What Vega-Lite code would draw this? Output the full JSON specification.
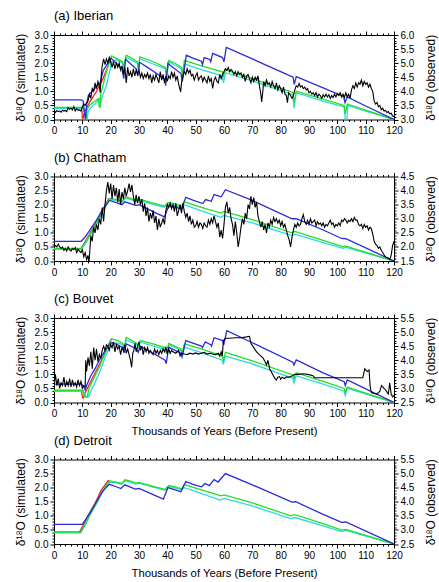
{
"$schema": "https://vega.github.io/schema/vega-lite/v6.json",
"padding": {"left": 13, "top": 9, "right": 0, "bottom": 0},
"config": {
 "font": "Liberation Sans",
 "view": {"stroke": "#000000", "strokeWidth": 1},
 "axis": {"grid": false, "domain": false, "tickColor": "#000000", "tickWidth": 1, "labelColor": "#000000", "labelFontSize": 10, "labelFont": "Liberation Sans", "titleFont": "Liberation Sans", "titleFontSize": 11.3, "titleFontWeight": "normal", "titleColor": "#000000", "labelPadding": 2},
 "axisY": {"titleFontSize": 12},
 "title": {"font": "Liberation Sans", "fontSize": 13, "fontWeight": "normal", "anchor": "start", "frame": "group", "color": "#000000", "offset": 7, "baseline": "bottom"}
},
"datasets": {
"sim": [
{"p":"a","s":"red","t":0,"v":0.42},{"p":"a","s":"red","t":9.8,"v":0.42},{"p":"a","s":"red","t":10.0,"v":0.1},{"p":"a","s":"red","t":10.2,"v":0.0},{"p":"a","s":"red","t":10.6,"v":0.2},{"p":"a","s":"red","t":11.5,"v":0.4},{"p":"a","s":"red","t":12.6,"v":0.62},{"p":"a","s":"red","t":14.9,"v":0.98},{"p":"a","s":"red","t":17.3,"v":1.45},{"p":"a","s":"red","t":19.6,"v":2.05},{"p":"a","s":"red","t":20.3,"v":2.2},
{"p":"a","s":"cyan","t":0,"v":0.4},{"p":"a","s":"cyan","t":9.6,"v":0.4},{"p":"a","s":"cyan","t":10.5,"v":0.38},{"p":"a","s":"cyan","t":11.3,"v":0.15},{"p":"a","s":"cyan","t":11.7,"v":0.0},{"p":"a","s":"cyan","t":12.1,"v":0.3},{"p":"a","s":"cyan","t":13,"v":0.42},{"p":"a","s":"cyan","t":14.5,"v":0.55},{"p":"a","s":"cyan","t":15.8,"v":0.7},{"p":"a","s":"cyan","t":16.1,"v":0.45},{"p":"a","s":"cyan","t":16.4,"v":0.6},{"p":"a","s":"cyan","t":17.5,"v":0.95},{"p":"a","s":"cyan","t":18.5,"v":1.2},{"p":"a","s":"cyan","t":19.5,"v":1.65},{"p":"a","s":"cyan","t":20.3,"v":2.05},{"p":"a","s":"cyan","t":22,"v":2.12},{"p":"a","s":"cyan","t":24.2,"v":2.0},{"p":"a","s":"cyan","t":24.6,"v":1.65},{"p":"a","s":"cyan","t":25.0,"v":2.0},{"p":"a","s":"cyan","t":25.5,"v":2.2},{"p":"a","s":"cyan","t":29.4,"v":2.0},{"p":"a","s":"cyan","t":29.8,"v":1.75},{"p":"a","s":"cyan","t":30.3,"v":2.15},{"p":"a","s":"cyan","t":35,"v":1.97},{"p":"a","s":"cyan","t":39.3,"v":1.8},{"p":"a","s":"cyan","t":39.7,"v":1.45},{"p":"a","s":"cyan","t":40.5,"v":2.05},{"p":"a","s":"cyan","t":45,"v":1.8},{"p":"a","s":"cyan","t":45.4,"v":1.5},{"p":"a","s":"cyan","t":46.2,"v":1.97},{"p":"a","s":"cyan","t":52,"v":1.77},{"p":"a","s":"cyan","t":59.4,"v":1.55},{"p":"a","s":"cyan","t":59.8,"v":1.3},{"p":"a","s":"cyan","t":60.5,"v":1.66},{"p":"a","s":"cyan","t":70,"v":1.37},{"p":"a","s":"cyan","t":84.3,"v":0.88},{"p":"a","s":"cyan","t":84.7,"v":0.4},{"p":"a","s":"cyan","t":85.5,"v":0.95},{"p":"a","s":"cyan","t":95,"v":0.65},{"p":"a","s":"cyan","t":102.4,"v":0.45},{"p":"a","s":"cyan","t":102.8,"v":0.0},{"p":"a","s":"cyan","t":103.4,"v":0.0},{"p":"a","s":"cyan","t":103.7,"v":0.5},{"p":"a","s":"cyan","t":110,"v":0.3},{"p":"a","s":"cyan","t":120,"v":0.0},
{"p":"a","s":"green","t":0,"v":0.43},{"p":"a","s":"green","t":9.6,"v":0.43},{"p":"a","s":"green","t":10.3,"v":0.42},{"p":"a","s":"green","t":10.9,"v":0.2},{"p":"a","s":"green","t":11.3,"v":0.0},{"p":"a","s":"green","t":11.6,"v":0.35},{"p":"a","s":"green","t":12.5,"v":0.5},{"p":"a","s":"green","t":14,"v":0.62},{"p":"a","s":"green","t":15.8,"v":0.75},{"p":"a","s":"green","t":16.0,"v":0.44},{"p":"a","s":"green","t":16.3,"v":0.44},{"p":"a","s":"green","t":16.5,"v":0.9},{"p":"a","s":"green","t":17.5,"v":1.3},{"p":"a","s":"green","t":18.5,"v":1.7},{"p":"a","s":"green","t":19.5,"v":2.05},{"p":"a","s":"green","t":20.3,"v":2.26},{"p":"a","s":"green","t":22,"v":2.17},{"p":"a","s":"green","t":24.2,"v":2.05},{"p":"a","s":"green","t":24.6,"v":1.75},{"p":"a","s":"green","t":25.0,"v":2.1},{"p":"a","s":"green","t":25.5,"v":2.28},{"p":"a","s":"green","t":27.5,"v":2.17},{"p":"a","s":"green","t":29.4,"v":2.05},{"p":"a","s":"green","t":29.8,"v":1.85},{"p":"a","s":"green","t":30.3,"v":2.22},{"p":"a","s":"green","t":35,"v":2.05},{"p":"a","s":"green","t":39.3,"v":1.85},{"p":"a","s":"green","t":39.7,"v":1.55},{"p":"a","s":"green","t":40.5,"v":2.1},{"p":"a","s":"green","t":43,"v":1.98},{"p":"a","s":"green","t":45,"v":1.85},{"p":"a","s":"green","t":45.4,"v":1.6},{"p":"a","s":"green","t":46,"v":2.1},{"p":"a","s":"green","t":52,"v":1.9},{"p":"a","s":"green","t":59.4,"v":1.69},{"p":"a","s":"green","t":59.8,"v":1.55},{"p":"a","s":"green","t":60.5,"v":1.76},{"p":"a","s":"green","t":70,"v":1.45},{"p":"a","s":"green","t":84.3,"v":0.96},{"p":"a","s":"green","t":84.7,"v":0.6},{"p":"a","s":"green","t":85.5,"v":1.0},{"p":"a","s":"green","t":95,"v":0.72},{"p":"a","s":"green","t":102.4,"v":0.5},{"p":"a","s":"green","t":102.8,"v":0.2},{"p":"a","s":"green","t":103.5,"v":0.55},{"p":"a","s":"green","t":110,"v":0.33},{"p":"a","s":"green","t":120,"v":0.0},
{"p":"a","s":"blue","t":0,"v":0.7},{"p":"a","s":"blue","t":9.6,"v":0.7},{"p":"a","s":"blue","t":10.3,"v":0.65},{"p":"a","s":"blue","t":10.8,"v":0.2},{"p":"a","s":"blue","t":11.1,"v":0.0},{"p":"a","s":"blue","t":11.5,"v":0.5},{"p":"a","s":"blue","t":12.1,"v":0.85},{"p":"a","s":"blue","t":13,"v":0.95},{"p":"a","s":"blue","t":14,"v":1.05},{"p":"a","s":"blue","t":15,"v":1.18},{"p":"a","s":"blue","t":16.2,"v":1.28},{"p":"a","s":"blue","t":17.4,"v":1.74},{"p":"a","s":"blue","t":19.2,"v":2.04},{"p":"a","s":"blue","t":20.2,"v":2.17},{"p":"a","s":"blue","t":22,"v":2.0},{"p":"a","s":"blue","t":24,"v":1.78},{"p":"a","s":"blue","t":24.4,"v":1.6},{"p":"a","s":"blue","t":24.6,"v":1.45},{"p":"a","s":"blue","t":25.0,"v":1.9},{"p":"a","s":"blue","t":25.3,"v":2.14},{"p":"a","s":"blue","t":27,"v":1.98},{"p":"a","s":"blue","t":29,"v":1.8},{"p":"a","s":"blue","t":29.3,"v":1.68},{"p":"a","s":"blue","t":29.6,"v":1.55},{"p":"a","s":"blue","t":30.2,"v":2.03},{"p":"a","s":"blue","t":33,"v":1.85},{"p":"a","s":"blue","t":36,"v":1.65},{"p":"a","s":"blue","t":39,"v":1.43},{"p":"a","s":"blue","t":39.4,"v":1.2},{"p":"a","s":"blue","t":40.2,"v":2.0},{"p":"a","s":"blue","t":42,"v":1.85},{"p":"a","s":"blue","t":44.8,"v":1.63},{"p":"a","s":"blue","t":45.3,"v":1.35},{"p":"a","s":"blue","t":46.7,"v":2.28},{"p":"a","s":"blue","t":49,"v":2.18},{"p":"a","s":"blue","t":52,"v":2.07},{"p":"a","s":"blue","t":52.4,"v":1.95},{"p":"a","s":"blue","t":53,"v":2.2},{"p":"a","s":"blue","t":55,"v":2.13},{"p":"a","s":"blue","t":55.3,"v":2.05},{"p":"a","s":"blue","t":56,"v":2.35},{"p":"a","s":"blue","t":59.5,"v":2.2},{"p":"a","s":"blue","t":60,"v":2.05},{"p":"a","s":"blue","t":60.8,"v":2.56},{"p":"a","s":"blue","t":70,"v":2.15},{"p":"a","s":"blue","t":80,"v":1.7},{"p":"a","s":"blue","t":84.4,"v":1.5},{"p":"a","s":"blue","t":84.8,"v":1.25},{"p":"a","s":"blue","t":85.5,"v":1.52},{"p":"a","s":"blue","t":95,"v":1.12},{"p":"a","s":"blue","t":102.2,"v":0.82},{"p":"a","s":"blue","t":102.7,"v":0.6},{"p":"a","s":"blue","t":103.5,"v":0.8},{"p":"a","s":"blue","t":110,"v":0.48},{"p":"a","s":"blue","t":120,"v":0.0},
{"p":"b","s":"red","t":0,"v":0.43},{"p":"b","s":"red","t":9.5,"v":0.43},{"p":"b","s":"red","t":10.5,"v":0.6},{"p":"b","s":"red","t":12.5,"v":0.95},{"p":"b","s":"red","t":14.5,"v":1.3},{"p":"b","s":"red","t":16.5,"v":1.7},{"p":"b","s":"red","t":19.2,"v":2.2},{"p":"b","s":"red","t":20,"v":2.22},
{"p":"b","s":"cyan","t":0,"v":0.42},{"p":"b","s":"cyan","t":9.6,"v":0.42},{"p":"b","s":"cyan","t":11,"v":0.6},{"p":"b","s":"cyan","t":13,"v":0.95},{"p":"b","s":"cyan","t":15,"v":1.3},{"p":"b","s":"cyan","t":17,"v":1.7},{"p":"b","s":"cyan","t":19.6,"v":2.18},{"p":"b","s":"cyan","t":22,"v":2.15},{"p":"b","s":"cyan","t":24,"v":2.08},{"p":"b","s":"cyan","t":25.3,"v":2.24},{"p":"b","s":"cyan","t":29,"v":2.12},{"p":"b","s":"cyan","t":30,"v":2.16},{"p":"b","s":"cyan","t":34,"v":2.04},{"p":"b","s":"cyan","t":39,"v":1.91},{"p":"b","s":"cyan","t":40.2,"v":2.04},{"p":"b","s":"cyan","t":45,"v":1.9},{"p":"b","s":"cyan","t":46,"v":2.0},{"p":"b","s":"cyan","t":52,"v":1.78},{"p":"b","s":"cyan","t":59,"v":1.55},{"p":"b","s":"cyan","t":60,"v":1.62},{"p":"b","s":"cyan","t":70,"v":1.35},{"p":"b","s":"cyan","t":84,"v":0.9},{"p":"b","s":"cyan","t":85,"v":0.95},{"p":"b","s":"cyan","t":95,"v":0.65},{"p":"b","s":"cyan","t":102,"v":0.45},{"p":"b","s":"cyan","t":103,"v":0.48},{"p":"b","s":"cyan","t":120,"v":0.0},
{"p":"b","s":"green","t":0,"v":0.45},{"p":"b","s":"green","t":9.6,"v":0.45},{"p":"b","s":"green","t":11,"v":0.65},{"p":"b","s":"green","t":13,"v":1.0},{"p":"b","s":"green","t":15,"v":1.35},{"p":"b","s":"green","t":17,"v":1.75},{"p":"b","s":"green","t":19.6,"v":2.22},{"p":"b","s":"green","t":22,"v":2.18},{"p":"b","s":"green","t":24,"v":2.12},{"p":"b","s":"green","t":25.3,"v":2.28},{"p":"b","s":"green","t":27,"v":2.22},{"p":"b","s":"green","t":29,"v":2.15},{"p":"b","s":"green","t":30,"v":2.2},{"p":"b","s":"green","t":34,"v":2.08},{"p":"b","s":"green","t":39,"v":1.95},{"p":"b","s":"green","t":40.2,"v":2.08},{"p":"b","s":"green","t":43,"v":2.02},{"p":"b","s":"green","t":45,"v":1.95},{"p":"b","s":"green","t":46,"v":2.1},{"p":"b","s":"green","t":52,"v":1.9},{"p":"b","s":"green","t":59,"v":1.7},{"p":"b","s":"green","t":60,"v":1.76},{"p":"b","s":"green","t":70,"v":1.47},{"p":"b","s":"green","t":84,"v":1.0},{"p":"b","s":"green","t":85,"v":1.05},{"p":"b","s":"green","t":95,"v":0.73},{"p":"b","s":"green","t":102,"v":0.5},{"p":"b","s":"green","t":103,"v":0.53},{"p":"b","s":"green","t":120,"v":0.0},
{"p":"b","s":"blue","t":0,"v":0.7},{"p":"b","s":"blue","t":9.6,"v":0.7},{"p":"b","s":"blue","t":11,"v":0.85},{"p":"b","s":"blue","t":13,"v":1.15},{"p":"b","s":"blue","t":15,"v":1.45},{"p":"b","s":"blue","t":17,"v":1.8},{"p":"b","s":"blue","t":19.6,"v":2.15},{"p":"b","s":"blue","t":22,"v":2.07},{"p":"b","s":"blue","t":24,"v":2.0},{"p":"b","s":"blue","t":25,"v":2.1},{"p":"b","s":"blue","t":27,"v":2.04},{"p":"b","s":"blue","t":29,"v":1.97},{"p":"b","s":"blue","t":30,"v":2.0},{"p":"b","s":"blue","t":33,"v":1.85},{"p":"b","s":"blue","t":36,"v":1.7},{"p":"b","s":"blue","t":39,"v":1.57},{"p":"b","s":"blue","t":40.5,"v":1.96},{"p":"b","s":"blue","t":43,"v":1.9},{"p":"b","s":"blue","t":45,"v":1.85},{"p":"b","s":"blue","t":46.5,"v":2.26},{"p":"b","s":"blue","t":49,"v":2.16},{"p":"b","s":"blue","t":52.5,"v":2.04},{"p":"b","s":"blue","t":53.5,"v":2.18},{"p":"b","s":"blue","t":55.5,"v":2.12},{"p":"b","s":"blue","t":56.5,"v":2.36},{"p":"b","s":"blue","t":59,"v":2.28},{"p":"b","s":"blue","t":60.5,"v":2.53},{"p":"b","s":"blue","t":70,"v":2.15},{"p":"b","s":"blue","t":84,"v":1.5},{"p":"b","s":"blue","t":85.5,"v":1.5},{"p":"b","s":"blue","t":95,"v":1.1},{"p":"b","s":"blue","t":101.5,"v":0.8},{"p":"b","s":"blue","t":103,"v":0.79},{"p":"b","s":"blue","t":120,"v":0.0},
{"p":"c","s":"red","t":0,"v":0.43},{"p":"c","s":"red","t":9.7,"v":0.43},{"p":"c","s":"red","t":10.0,"v":0.2},{"p":"c","s":"red","t":10.3,"v":0.15},{"p":"c","s":"red","t":10.8,"v":0.3},{"p":"c","s":"red","t":12,"v":0.55},{"p":"c","s":"red","t":14,"v":0.95},{"p":"c","s":"red","t":16,"v":1.35},{"p":"c","s":"red","t":18,"v":1.75},{"p":"c","s":"red","t":20,"v":2.22},{"p":"c","s":"red","t":20.5,"v":2.24},
{"p":"c","s":"cyan","t":0,"v":0.4},{"p":"c","s":"cyan","t":9.7,"v":0.4},{"p":"c","s":"cyan","t":10.8,"v":0.35},{"p":"c","s":"cyan","t":11.2,"v":0.2},{"p":"c","s":"cyan","t":12.2,"v":0.2},{"p":"c","s":"cyan","t":13,"v":0.4},{"p":"c","s":"cyan","t":14,"v":0.6},{"p":"c","s":"cyan","t":16,"v":1.05},{"p":"c","s":"cyan","t":18,"v":1.6},{"p":"c","s":"cyan","t":20.3,"v":2.1},{"p":"c","s":"cyan","t":22.5,"v":2.12},{"p":"c","s":"cyan","t":24.3,"v":2.05},{"p":"c","s":"cyan","t":24.7,"v":1.88},{"p":"c","s":"cyan","t":25.5,"v":2.22},{"p":"c","s":"cyan","t":29.3,"v":2.05},{"p":"c","s":"cyan","t":29.7,"v":1.95},{"p":"c","s":"cyan","t":30.5,"v":2.14},{"p":"c","s":"cyan","t":39.3,"v":1.88},{"p":"c","s":"cyan","t":39.7,"v":1.72},{"p":"c","s":"cyan","t":40.5,"v":2.05},{"p":"c","s":"cyan","t":44.8,"v":1.85},{"p":"c","s":"cyan","t":45.2,"v":1.7},{"p":"c","s":"cyan","t":46,"v":1.97},{"p":"c","s":"cyan","t":52,"v":1.77},{"p":"c","s":"cyan","t":59.4,"v":1.5},{"p":"c","s":"cyan","t":59.8,"v":1.35},{"p":"c","s":"cyan","t":60.5,"v":1.65},{"p":"c","s":"cyan","t":70,"v":1.37},{"p":"c","s":"cyan","t":84.3,"v":0.86},{"p":"c","s":"cyan","t":84.7,"v":0.7},{"p":"c","s":"cyan","t":85.5,"v":0.95},{"p":"c","s":"cyan","t":95,"v":0.65},{"p":"c","s":"cyan","t":102.4,"v":0.4},{"p":"c","s":"cyan","t":102.8,"v":0.25},{"p":"c","s":"cyan","t":103.5,"v":0.5},{"p":"c","s":"cyan","t":120,"v":0.0},
{"p":"c","s":"green","t":0,"v":0.43},{"p":"c","s":"green","t":9.7,"v":0.43},{"p":"c","s":"green","t":10.4,"v":0.42},{"p":"c","s":"green","t":10.7,"v":0.2},{"p":"c","s":"green","t":11.8,"v":0.2},{"p":"c","s":"green","t":12.3,"v":0.5},{"p":"c","s":"green","t":14,"v":0.85},{"p":"c","s":"green","t":16,"v":1.25},{"p":"c","s":"green","t":18,"v":1.75},{"p":"c","s":"green","t":20.3,"v":2.26},{"p":"c","s":"green","t":22.5,"v":2.2},{"p":"c","s":"green","t":24.3,"v":2.1},{"p":"c","s":"green","t":24.7,"v":1.95},{"p":"c","s":"green","t":25.5,"v":2.31},{"p":"c","s":"green","t":29.3,"v":2.1},{"p":"c","s":"green","t":29.7,"v":2.0},{"p":"c","s":"green","t":30.5,"v":2.2},{"p":"c","s":"green","t":35,"v":2.08},{"p":"c","s":"green","t":39.3,"v":1.94},{"p":"c","s":"green","t":39.7,"v":1.8},{"p":"c","s":"green","t":40.5,"v":2.1},{"p":"c","s":"green","t":44.8,"v":1.9},{"p":"c","s":"green","t":45.2,"v":1.75},{"p":"c","s":"green","t":46,"v":2.08},{"p":"c","s":"green","t":52,"v":1.9},{"p":"c","s":"green","t":59.4,"v":1.65},{"p":"c","s":"green","t":59.8,"v":1.5},{"p":"c","s":"green","t":60.5,"v":1.78},{"p":"c","s":"green","t":70,"v":1.48},{"p":"c","s":"green","t":84.3,"v":0.98},{"p":"c","s":"green","t":84.7,"v":0.85},{"p":"c","s":"green","t":85.5,"v":1.05},{"p":"c","s":"green","t":95,"v":0.75},{"p":"c","s":"green","t":102.4,"v":0.5},{"p":"c","s":"green","t":102.8,"v":0.35},{"p":"c","s":"green","t":103.5,"v":0.55},{"p":"c","s":"green","t":120,"v":0.0},
{"p":"c","s":"blue","t":0,"v":0.65},{"p":"c","s":"blue","t":9.8,"v":0.65},{"p":"c","s":"blue","t":10.5,"v":0.55},{"p":"c","s":"blue","t":11,"v":0.45},{"p":"c","s":"blue","t":11.5,"v":0.6},{"p":"c","s":"blue","t":13,"v":0.95},{"p":"c","s":"blue","t":14.5,"v":1.2},{"p":"c","s":"blue","t":16,"v":1.5},{"p":"c","s":"blue","t":17.5,"v":1.75},{"p":"c","s":"blue","t":19,"v":2.0},{"p":"c","s":"blue","t":20.2,"v":2.13},{"p":"c","s":"blue","t":22.5,"v":2.05},{"p":"c","s":"blue","t":24.3,"v":1.95},{"p":"c","s":"blue","t":24.7,"v":1.75},{"p":"c","s":"blue","t":25.5,"v":2.08},{"p":"c","s":"blue","t":29.3,"v":1.9},{"p":"c","s":"blue","t":29.7,"v":1.78},{"p":"c","s":"blue","t":30.5,"v":2.0},{"p":"c","s":"blue","t":35,"v":1.75},{"p":"c","s":"blue","t":39.2,"v":1.5},{"p":"c","s":"blue","t":39.6,"v":1.38},{"p":"c","s":"blue","t":40.5,"v":1.96},{"p":"c","s":"blue","t":44.8,"v":1.75},{"p":"c","s":"blue","t":45.2,"v":1.62},{"p":"c","s":"blue","t":46.5,"v":2.2},{"p":"c","s":"blue","t":52,"v":2.0},{"p":"c","s":"blue","t":52.4,"v":1.95},{"p":"c","s":"blue","t":53.4,"v":2.15},{"p":"c","s":"blue","t":55.3,"v":2.05},{"p":"c","s":"blue","t":55.6,"v":2.0},{"p":"c","s":"blue","t":56.5,"v":2.3},{"p":"c","s":"blue","t":59.5,"v":2.2},{"p":"c","s":"blue","t":59.9,"v":2.05},{"p":"c","s":"blue","t":61,"v":2.55},{"p":"c","s":"blue","t":70,"v":2.12},{"p":"c","s":"blue","t":84.3,"v":1.43},{"p":"c","s":"blue","t":84.7,"v":1.33},{"p":"c","s":"blue","t":85.5,"v":1.51},{"p":"c","s":"blue","t":95,"v":1.05},{"p":"c","s":"blue","t":102.4,"v":0.74},{"p":"c","s":"blue","t":102.8,"v":0.6},{"p":"c","s":"blue","t":103.5,"v":0.8},{"p":"c","s":"blue","t":120,"v":0.0},
{"p":"d","s":"red","t":0,"v":0.42},{"p":"d","s":"red","t":9.0,"v":0.42},{"p":"d","s":"red","t":10.5,"v":0.7},{"p":"d","s":"red","t":12.5,"v":1.1},{"p":"d","s":"red","t":14.5,"v":1.45},{"p":"d","s":"red","t":16.5,"v":1.88},{"p":"d","s":"red","t":19,"v":2.24},{"p":"d","s":"red","t":19.6,"v":2.25},
{"p":"d","s":"cyan","t":0,"v":0.4},{"p":"d","s":"cyan","t":9.5,"v":0.4},{"p":"d","s":"cyan","t":11,"v":0.68},{"p":"d","s":"cyan","t":13,"v":1.08},{"p":"d","s":"cyan","t":15,"v":1.43},{"p":"d","s":"cyan","t":17,"v":1.82},{"p":"d","s":"cyan","t":19.5,"v":2.2},{"p":"d","s":"cyan","t":22,"v":2.17},{"p":"d","s":"cyan","t":24,"v":2.12},{"p":"d","s":"cyan","t":25,"v":2.25},{"p":"d","s":"cyan","t":29,"v":2.13},{"p":"d","s":"cyan","t":30,"v":2.16},{"p":"d","s":"cyan","t":35,"v":2.02},{"p":"d","s":"cyan","t":39.2,"v":1.91},{"p":"d","s":"cyan","t":40.5,"v":2.05},{"p":"d","s":"cyan","t":45,"v":1.93},{"p":"d","s":"cyan","t":46,"v":2.0},{"p":"d","s":"cyan","t":52,"v":1.8},{"p":"d","s":"cyan","t":58.5,"v":1.56},{"p":"d","s":"cyan","t":60,"v":1.62},{"p":"d","s":"cyan","t":70,"v":1.35},{"p":"d","s":"cyan","t":83.5,"v":0.9},{"p":"d","s":"cyan","t":85,"v":0.94},{"p":"d","s":"cyan","t":95,"v":0.64},{"p":"d","s":"cyan","t":101.5,"v":0.44},{"p":"d","s":"cyan","t":103,"v":0.48},{"p":"d","s":"cyan","t":120,"v":0.0},
{"p":"d","s":"green","t":0,"v":0.42},{"p":"d","s":"green","t":9.4,"v":0.42},{"p":"d","s":"green","t":11,"v":0.7},{"p":"d","s":"green","t":13,"v":1.1},{"p":"d","s":"green","t":15,"v":1.45},{"p":"d","s":"green","t":17,"v":1.85},{"p":"d","s":"green","t":19.5,"v":2.24},{"p":"d","s":"green","t":22,"v":2.2},{"p":"d","s":"green","t":24,"v":2.15},{"p":"d","s":"green","t":25,"v":2.28},{"p":"d","s":"green","t":27,"v":2.23},{"p":"d","s":"green","t":29,"v":2.16},{"p":"d","s":"green","t":30,"v":2.19},{"p":"d","s":"green","t":35,"v":2.05},{"p":"d","s":"green","t":39.2,"v":1.94},{"p":"d","s":"green","t":40.5,"v":2.08},{"p":"d","s":"green","t":43,"v":2.02},{"p":"d","s":"green","t":45,"v":1.96},{"p":"d","s":"green","t":46,"v":2.11},{"p":"d","s":"green","t":52,"v":1.92},{"p":"d","s":"green","t":59,"v":1.71},{"p":"d","s":"green","t":60,"v":1.74},{"p":"d","s":"green","t":70,"v":1.46},{"p":"d","s":"green","t":83.5,"v":1.0},{"p":"d","s":"green","t":85,"v":1.04},{"p":"d","s":"green","t":95,"v":0.72},{"p":"d","s":"green","t":101.5,"v":0.49},{"p":"d","s":"green","t":103,"v":0.52},{"p":"d","s":"green","t":120,"v":0.0},
{"p":"d","s":"blue","t":0,"v":0.7},{"p":"d","s":"blue","t":10,"v":0.7},{"p":"d","s":"blue","t":11,"v":0.85},{"p":"d","s":"blue","t":13,"v":1.15},{"p":"d","s":"blue","t":15,"v":1.5},{"p":"d","s":"blue","t":17,"v":1.85},{"p":"d","s":"blue","t":19.5,"v":2.12},{"p":"d","s":"blue","t":21.5,"v":2.05},{"p":"d","s":"blue","t":23.6,"v":1.97},{"p":"d","s":"blue","t":25,"v":2.1},{"p":"d","s":"blue","t":27,"v":2.02},{"p":"d","s":"blue","t":28.6,"v":1.95},{"p":"d","s":"blue","t":30,"v":1.97},{"p":"d","s":"blue","t":34,"v":1.8},{"p":"d","s":"blue","t":38.6,"v":1.59},{"p":"d","s":"blue","t":40.2,"v":2.0},{"p":"d","s":"blue","t":42.5,"v":1.93},{"p":"d","s":"blue","t":44.8,"v":1.86},{"p":"d","s":"blue","t":46.5,"v":2.22},{"p":"d","s":"blue","t":49,"v":2.12},{"p":"d","s":"blue","t":52.1,"v":2.03},{"p":"d","s":"blue","t":53.3,"v":2.15},{"p":"d","s":"blue","t":54.8,"v":2.07},{"p":"d","s":"blue","t":56.5,"v":2.29},{"p":"d","s":"blue","t":57.9,"v":2.2},{"p":"d","s":"blue","t":60.5,"v":2.5},{"p":"d","s":"blue","t":70,"v":2.1},{"p":"d","s":"blue","t":84,"v":1.49},{"p":"d","s":"blue","t":85.3,"v":1.5},{"p":"d","s":"blue","t":95,"v":1.05},{"p":"d","s":"blue","t":101.5,"v":0.77},{"p":"d","s":"blue","t":103,"v":0.78},{"p":"d","s":"blue","t":120,"v":0.0}
],
"obs": [
{"p":"a","t":0,"v":3.35},{"p":"a","t":0.5,"v":3.25},{"p":"a","t":1,"v":3.32},{"p":"a","t":1.5,"v":3.28},{"p":"a","t":2,"v":3.3},{"p":"a","t":2.5,"v":3.26},{"p":"a","t":3,"v":3.33},{"p":"a","t":3.5,"v":3.3},{"p":"a","t":4,"v":3.32},{"p":"a","t":4.5,"v":3.28},{"p":"a","t":5,"v":3.42},{"p":"a","t":5.5,"v":3.36},{"p":"a","t":6,"v":3.4},{"p":"a","t":6.5,"v":3.34},{"p":"a","t":7,"v":3.46},{"p":"a","t":7.5,"v":3.3},{"p":"a","t":8,"v":3.38},{"p":"a","t":8.5,"v":3.33},{"p":"a","t":9,"v":3.34},{"p":"a","t":9.5,"v":3.3},{"p":"a","t":10,"v":3.45},{"p":"a","t":10.5,"v":3.55},{"p":"a","t":11,"v":3.5},{"p":"a","t":11.5,"v":3.6},{"p":"a","t":12,"v":3.65},{"p":"a","t":12.5,"v":3.9},{"p":"a","t":13,"v":3.75},{"p":"a","t":13.5,"v":4.1},{"p":"a","t":14,"v":4.0},{"p":"a","t":14.5,"v":4.3},{"p":"a","t":15,"v":4.1},{"p":"a","t":15.5,"v":4.35},{"p":"a","t":16,"v":4.2},{"p":"a","t":16.3,"v":3.95},{"p":"a","t":16.7,"v":4.6},{"p":"a","t":17,"v":4.9},{"p":"a","t":17.5,"v":5.15},{"p":"a","t":18,"v":4.95},{"p":"a","t":18.5,"v":5.15},{"p":"a","t":19,"v":5.0},{"p":"a","t":19.5,"v":5.2},{"p":"a","t":20,"v":5.05},{"p":"a","t":20.5,"v":4.85},{"p":"a","t":21,"v":5.05},{"p":"a","t":21.5,"v":4.8},{"p":"a","t":22,"v":5.0},{"p":"a","t":22.5,"v":4.85},{"p":"a","t":23,"v":5.0},{"p":"a","t":23.5,"v":4.75},{"p":"a","t":24,"v":4.9},{"p":"a","t":24.5,"v":4.6},{"p":"a","t":25,"v":4.85},{"p":"a","t":25.5,"v":4.3},{"p":"a","t":26,"v":4.85},{"p":"a","t":26.5,"v":4.55},{"p":"a","t":27,"v":4.7},{"p":"a","t":27.5,"v":4.5},{"p":"a","t":28,"v":4.8},{"p":"a","t":28.5,"v":4.55},{"p":"a","t":29,"v":4.75},{"p":"a","t":29.5,"v":4.6},{"p":"a","t":30,"v":4.75},{"p":"a","t":30.5,"v":4.5},{"p":"a","t":31,"v":4.65},{"p":"a","t":31.5,"v":4.45},{"p":"a","t":32,"v":4.6},{"p":"a","t":32.5,"v":4.5},{"p":"a","t":33,"v":4.65},{"p":"a","t":33.5,"v":4.45},{"p":"a","t":34,"v":4.6},{"p":"a","t":34.5,"v":4.3},{"p":"a","t":35,"v":4.55},{"p":"a","t":35.5,"v":4.4},{"p":"a","t":36,"v":4.6},{"p":"a","t":36.5,"v":4.45},{"p":"a","t":37,"v":4.3},{"p":"a","t":37.5,"v":4.7},{"p":"a","t":38,"v":4.4},{"p":"a","t":38.5,"v":4.6},{"p":"a","t":39,"v":4.3},{"p":"a","t":39.5,"v":4.55},{"p":"a","t":40,"v":4.35},{"p":"a","t":40.5,"v":4.55},{"p":"a","t":41,"v":4.45},{"p":"a","t":41.5,"v":4.7},{"p":"a","t":42,"v":4.5},{"p":"a","t":42.5,"v":4.65},{"p":"a","t":43,"v":4.4},{"p":"a","t":43.5,"v":4.55},{"p":"a","t":44,"v":4.25},{"p":"a","t":44.7,"v":3.98},{"p":"a","t":45,"v":4.3},{"p":"a","t":45.5,"v":4.55},{"p":"a","t":46,"v":4.7},{"p":"a","t":46.5,"v":4.6},{"p":"a","t":47,"v":4.8},{"p":"a","t":47.5,"v":4.65},{"p":"a","t":48,"v":4.75},{"p":"a","t":48.5,"v":4.55},{"p":"a","t":49,"v":4.6},{"p":"a","t":49.5,"v":4.4},{"p":"a","t":50,"v":4.55},{"p":"a","t":50.5,"v":4.65},{"p":"a","t":51,"v":4.4},{"p":"a","t":51.5,"v":4.5},{"p":"a","t":52,"v":4.55},{"p":"a","t":52.5,"v":4.35},{"p":"a","t":53,"v":4.5},{"p":"a","t":53.5,"v":4.4},{"p":"a","t":54,"v":4.3},{"p":"a","t":54.5,"v":4.55},{"p":"a","t":55,"v":4.35},{"p":"a","t":55.5,"v":4.45},{"p":"a","t":56,"v":4.1},{"p":"a","t":56.5,"v":4.4},{"p":"a","t":57,"v":4.5},{"p":"a","t":57.5,"v":4.35},{"p":"a","t":58,"v":4.3},{"p":"a","t":58.5,"v":4.6},{"p":"a","t":59,"v":4.45},{"p":"a","t":59.5,"v":4.6},{"p":"a","t":60,"v":4.7},{"p":"a","t":60.5,"v":4.8},{"p":"a","t":61,"v":4.75},{"p":"a","t":61.5,"v":4.85},{"p":"a","t":62,"v":4.7},{"p":"a","t":62.5,"v":4.78},{"p":"a","t":63,"v":4.72},{"p":"a","t":63.5,"v":4.6},{"p":"a","t":64,"v":4.7},{"p":"a","t":64.5,"v":4.55},{"p":"a","t":65,"v":4.7},{"p":"a","t":65.5,"v":4.6},{"p":"a","t":66,"v":4.65},{"p":"a","t":66.5,"v":4.5},{"p":"a","t":67,"v":4.6},{"p":"a","t":67.5,"v":4.35},{"p":"a","t":68,"v":4.55},{"p":"a","t":68.5,"v":4.6},{"p":"a","t":69,"v":4.45},{"p":"a","t":69.5,"v":4.3},{"p":"a","t":70,"v":4.5},{"p":"a","t":70.5,"v":4.35},{"p":"a","t":71,"v":4.5},{"p":"a","t":71.5,"v":4.4},{"p":"a","t":72,"v":4.55},{"p":"a","t":72.5,"v":4.2},{"p":"a","t":73,"v":3.9},{"p":"a","t":73.3,"v":3.62},{"p":"a","t":73.7,"v":4.0},{"p":"a","t":74,"v":4.35},{"p":"a","t":74.5,"v":4.2},{"p":"a","t":75,"v":4.4},{"p":"a","t":75.5,"v":4.25},{"p":"a","t":76,"v":4.3},{"p":"a","t":76.5,"v":4.15},{"p":"a","t":77,"v":4.35},{"p":"a","t":77.5,"v":4.2},{"p":"a","t":78,"v":4.1},{"p":"a","t":78.5,"v":4.3},{"p":"a","t":79,"v":4.05},{"p":"a","t":79.5,"v":4.2},{"p":"a","t":80,"v":4.1},{"p":"a","t":80.5,"v":3.95},{"p":"a","t":81,"v":4.15},{"p":"a","t":81.5,"v":3.9},{"p":"a","t":82,"v":3.85},{"p":"a","t":82.4,"v":3.6},{"p":"a","t":82.8,"v":3.95},{"p":"a","t":83.5,"v":3.85},{"p":"a","t":84,"v":3.75},{"p":"a","t":84.5,"v":3.85},{"p":"a","t":85,"v":4.05},{"p":"a","t":85.5,"v":4.2},{"p":"a","t":86,"v":4.15},{"p":"a","t":86.5,"v":4.28},{"p":"a","t":87,"v":4.15},{"p":"a","t":87.5,"v":4.2},{"p":"a","t":88,"v":4.1},{"p":"a","t":88.5,"v":4.15},{"p":"a","t":89,"v":4.05},{"p":"a","t":89.5,"v":4.1},{"p":"a","t":90,"v":3.95},{"p":"a","t":90.5,"v":4.0},{"p":"a","t":91,"v":3.9},{"p":"a","t":91.5,"v":3.95},{"p":"a","t":92,"v":3.85},{"p":"a","t":92.5,"v":3.95},{"p":"a","t":93,"v":3.8},{"p":"a","t":93.5,"v":3.9},{"p":"a","t":94,"v":3.85},{"p":"a","t":94.5,"v":3.75},{"p":"a","t":95,"v":3.88},{"p":"a","t":95.5,"v":3.8},{"p":"a","t":96,"v":3.9},{"p":"a","t":96.5,"v":3.8},{"p":"a","t":97,"v":3.88},{"p":"a","t":97.5,"v":3.75},{"p":"a","t":98,"v":3.85},{"p":"a","t":98.5,"v":3.78},{"p":"a","t":99,"v":3.9},{"p":"a","t":99.5,"v":3.8},{"p":"a","t":100,"v":3.92},{"p":"a","t":100.5,"v":3.85},{"p":"a","t":101,"v":3.95},{"p":"a","t":101.5,"v":3.8},{"p":"a","t":102,"v":3.9},{"p":"a","t":102.5,"v":3.78},{"p":"a","t":103,"v":3.95},{"p":"a","t":103.5,"v":3.8},{"p":"a","t":104,"v":3.9},{"p":"a","t":104.5,"v":3.75},{"p":"a","t":105,"v":4.05},{"p":"a","t":105.5,"v":4.2},{"p":"a","t":106,"v":4.1},{"p":"a","t":106.5,"v":4.3},{"p":"a","t":107,"v":4.15},{"p":"a","t":107.5,"v":4.3},{"p":"a","t":108,"v":4.25},{"p":"a","t":108.5,"v":4.4},{"p":"a","t":109,"v":4.2},{"p":"a","t":109.5,"v":4.35},{"p":"a","t":110,"v":4.25},{"p":"a","t":110.5,"v":4.3},{"p":"a","t":111,"v":4.15},{"p":"a","t":111.5,"v":4.25},{"p":"a","t":112,"v":4.1},{"p":"a","t":112.5,"v":4.0},{"p":"a","t":113,"v":3.65},{"p":"a","t":113.5,"v":3.55},{"p":"a","t":114,"v":3.6},{"p":"a","t":114.5,"v":3.45},{"p":"a","t":115,"v":3.5},{"p":"a","t":115.5,"v":3.35},{"p":"a","t":116,"v":3.4},{"p":"a","t":116.5,"v":3.3},{"p":"a","t":117,"v":3.32},{"p":"a","t":117.5,"v":3.25},{"p":"a","t":118,"v":3.28},{"p":"a","t":118.5,"v":3.2},{"p":"a","t":119,"v":3.22},{"p":"a","t":119.5,"v":3.12},{"p":"a","t":120,"v":3.1},
{"p":"b","t":0,"v":2.0},{"p":"b","t":0.5,"v":2.05},{"p":"b","t":1,"v":2.0},{"p":"b","t":1.5,"v":2.1},{"p":"b","t":2,"v":2.0},{"p":"b","t":2.5,"v":1.95},{"p":"b","t":3,"v":2.0},{"p":"b","t":3.5,"v":1.88},{"p":"b","t":4,"v":1.95},{"p":"b","t":4.5,"v":1.85},{"p":"b","t":5,"v":2.0},{"p":"b","t":5.5,"v":1.9},{"p":"b","t":6,"v":1.85},{"p":"b","t":6.5,"v":1.95},{"p":"b","t":7,"v":1.9},{"p":"b","t":7.5,"v":1.98},{"p":"b","t":8,"v":1.8},{"p":"b","t":8.5,"v":1.92},{"p":"b","t":9,"v":1.85},{"p":"b","t":9.5,"v":1.8},{"p":"b","t":10,"v":1.9},{"p":"b","t":10.5,"v":1.65},{"p":"b","t":11,"v":1.8},{"p":"b","t":11.5,"v":1.55},{"p":"b","t":12,"v":1.7},{"p":"b","t":12.3,"v":1.4},{"p":"b","t":12.6,"v":1.8},{"p":"b","t":13,"v":2.4},{"p":"b","t":13.5,"v":2.2},{"p":"b","t":14,"v":2.7},{"p":"b","t":14.5,"v":2.5},{"p":"b","t":15,"v":2.8},{"p":"b","t":15.5,"v":2.6},{"p":"b","t":16,"v":3.0},{"p":"b","t":16.5,"v":2.8},{"p":"b","t":17,"v":3.4},{"p":"b","t":17.5,"v":2.9},{"p":"b","t":18,"v":3.5},{"p":"b","t":18.5,"v":4.0},{"p":"b","t":19,"v":4.3},{"p":"b","t":19.5,"v":3.9},{"p":"b","t":20,"v":4.25},{"p":"b","t":20.5,"v":3.7},{"p":"b","t":21,"v":4.2},{"p":"b","t":21.5,"v":3.8},{"p":"b","t":22,"v":4.1},{"p":"b","t":22.5,"v":3.6},{"p":"b","t":23,"v":4.05},{"p":"b","t":23.5,"v":3.5},{"p":"b","t":24,"v":3.95},{"p":"b","t":24.5,"v":3.7},{"p":"b","t":25,"v":4.1},{"p":"b","t":25.5,"v":3.8},{"p":"b","t":26,"v":4.0},{"p":"b","t":26.5,"v":4.25},{"p":"b","t":27,"v":3.95},{"p":"b","t":27.5,"v":4.2},{"p":"b","t":28,"v":3.8},{"p":"b","t":28.5,"v":3.5},{"p":"b","t":29,"v":3.85},{"p":"b","t":29.5,"v":3.55},{"p":"b","t":30,"v":3.8},{"p":"b","t":30.5,"v":3.5},{"p":"b","t":31,"v":3.7},{"p":"b","t":31.5,"v":3.25},{"p":"b","t":32,"v":3.55},{"p":"b","t":32.5,"v":3.1},{"p":"b","t":33,"v":3.4},{"p":"b","t":33.5,"v":2.9},{"p":"b","t":34,"v":3.2},{"p":"b","t":34.5,"v":3.0},{"p":"b","t":35,"v":3.3},{"p":"b","t":35.5,"v":2.85},{"p":"b","t":36,"v":3.1},{"p":"b","t":36.5,"v":2.6},{"p":"b","t":37,"v":3.0},{"p":"b","t":37.5,"v":2.7},{"p":"b","t":38,"v":2.85},{"p":"b","t":38.5,"v":3.0},{"p":"b","t":39,"v":2.8},{"p":"b","t":39.5,"v":3.3},{"p":"b","t":40,"v":3.5},{"p":"b","t":40.5,"v":3.4},{"p":"b","t":41,"v":3.55},{"p":"b","t":41.5,"v":3.35},{"p":"b","t":42,"v":3.5},{"p":"b","t":42.5,"v":3.25},{"p":"b","t":43,"v":3.55},{"p":"b","t":43.5,"v":3.1},{"p":"b","t":44,"v":3.3},{"p":"b","t":44.5,"v":3.5},{"p":"b","t":45,"v":3.2},{"p":"b","t":45.5,"v":3.55},{"p":"b","t":46,"v":3.25},{"p":"b","t":46.5,"v":3.05},{"p":"b","t":47,"v":3.2},{"p":"b","t":47.5,"v":2.9},{"p":"b","t":48,"v":3.1},{"p":"b","t":48.5,"v":2.8},{"p":"b","t":49,"v":2.95},{"p":"b","t":49.5,"v":2.7},{"p":"b","t":50,"v":2.75},{"p":"b","t":50.5,"v":2.9},{"p":"b","t":51,"v":2.7},{"p":"b","t":51.5,"v":2.85},{"p":"b","t":52,"v":2.8},{"p":"b","t":52.5,"v":2.65},{"p":"b","t":53,"v":2.85},{"p":"b","t":53.5,"v":2.75},{"p":"b","t":54,"v":2.7},{"p":"b","t":54.5,"v":2.95},{"p":"b","t":55,"v":2.8},{"p":"b","t":55.5,"v":3.0},{"p":"b","t":56,"v":2.85},{"p":"b","t":56.5,"v":3.1},{"p":"b","t":57,"v":2.9},{"p":"b","t":57.5,"v":2.7},{"p":"b","t":58,"v":2.85},{"p":"b","t":58.5,"v":2.35},{"p":"b","t":59,"v":2.6},{"p":"b","t":59.5,"v":2.3},{"p":"b","t":60,"v":2.8},{"p":"b","t":60.5,"v":3.4},{"p":"b","t":61,"v":3.6},{"p":"b","t":61.5,"v":3.2},{"p":"b","t":62,"v":3.4},{"p":"b","t":62.5,"v":3.0},{"p":"b","t":63,"v":2.8},{"p":"b","t":63.5,"v":2.4},{"p":"b","t":64,"v":2.9},{"p":"b","t":64.5,"v":2.5},{"p":"b","t":65,"v":2.0},{"p":"b","t":65.5,"v":2.3},{"p":"b","t":66,"v":2.7},{"p":"b","t":66.5,"v":3.0},{"p":"b","t":67,"v":2.8},{"p":"b","t":67.5,"v":3.2},{"p":"b","t":68,"v":3.0},{"p":"b","t":68.5,"v":3.5},{"p":"b","t":69,"v":3.35},{"p":"b","t":69.5,"v":3.8},{"p":"b","t":70,"v":3.5},{"p":"b","t":70.5,"v":3.75},{"p":"b","t":71,"v":3.4},{"p":"b","t":71.5,"v":3.6},{"p":"b","t":72,"v":3.1},{"p":"b","t":72.5,"v":2.9},{"p":"b","t":73,"v":2.7},{"p":"b","t":73.5,"v":2.9},{"p":"b","t":74,"v":2.6},{"p":"b","t":74.5,"v":2.8},{"p":"b","t":75,"v":2.5},{"p":"b","t":75.5,"v":2.85},{"p":"b","t":76,"v":2.7},{"p":"b","t":76.5,"v":2.95},{"p":"b","t":77,"v":2.8},{"p":"b","t":77.5,"v":3.05},{"p":"b","t":78,"v":2.9},{"p":"b","t":78.5,"v":3.0},{"p":"b","t":79,"v":2.85},{"p":"b","t":79.5,"v":2.95},{"p":"b","t":80,"v":2.75},{"p":"b","t":80.5,"v":2.9},{"p":"b","t":81,"v":2.7},{"p":"b","t":81.5,"v":2.8},{"p":"b","t":82,"v":2.6},{"p":"b","t":82.5,"v":2.4},{"p":"b","t":83,"v":2.25},{"p":"b","t":83.5,"v":2.0},{"p":"b","t":84,"v":2.35},{"p":"b","t":84.5,"v":2.6},{"p":"b","t":85,"v":2.8},{"p":"b","t":85.5,"v":2.7},{"p":"b","t":86,"v":2.85},{"p":"b","t":86.5,"v":2.75},{"p":"b","t":87,"v":2.8},{"p":"b","t":87.5,"v":3.0},{"p":"b","t":88,"v":3.15},{"p":"b","t":88.5,"v":2.9},{"p":"b","t":89,"v":2.8},{"p":"b","t":89.5,"v":2.95},{"p":"b","t":90,"v":2.8},{"p":"b","t":90.5,"v":3.0},{"p":"b","t":91,"v":2.85},{"p":"b","t":91.5,"v":2.9},{"p":"b","t":92,"v":2.95},{"p":"b","t":92.5,"v":2.75},{"p":"b","t":93,"v":2.9},{"p":"b","t":93.5,"v":2.8},{"p":"b","t":94,"v":2.85},{"p":"b","t":94.5,"v":2.75},{"p":"b","t":95,"v":2.85},{"p":"b","t":95.5,"v":2.7},{"p":"b","t":96,"v":2.8},{"p":"b","t":96.5,"v":2.75},{"p":"b","t":97,"v":2.85},{"p":"b","t":97.5,"v":2.95},{"p":"b","t":98,"v":2.8},{"p":"b","t":98.5,"v":2.85},{"p":"b","t":99,"v":2.7},{"p":"b","t":99.5,"v":2.8},{"p":"b","t":100,"v":2.75},{"p":"b","t":100.5,"v":2.85},{"p":"b","t":101,"v":2.75},{"p":"b","t":101.5,"v":2.95},{"p":"b","t":102,"v":2.9},{"p":"b","t":102.5,"v":3.0},{"p":"b","t":103,"v":2.95},{"p":"b","t":103.5,"v":2.85},{"p":"b","t":104,"v":2.95},{"p":"b","t":104.5,"v":2.9},{"p":"b","t":105,"v":3.0},{"p":"b","t":105.5,"v":2.9},{"p":"b","t":106,"v":3.05},{"p":"b","t":106.5,"v":2.95},{"p":"b","t":107,"v":2.95},{"p":"b","t":107.5,"v":2.8},{"p":"b","t":108,"v":2.75},{"p":"b","t":108.5,"v":2.8},{"p":"b","t":109,"v":2.65},{"p":"b","t":109.5,"v":2.8},{"p":"b","t":110,"v":2.7},{"p":"b","t":110.5,"v":2.75},{"p":"b","t":111,"v":2.6},{"p":"b","t":111.5,"v":2.7},{"p":"b","t":112,"v":2.65},{"p":"b","t":112.5,"v":2.45},{"p":"b","t":113,"v":2.2},{"p":"b","t":113.5,"v":2.1},{"p":"b","t":114,"v":2.05},{"p":"b","t":114.5,"v":1.95},{"p":"b","t":115,"v":2.0},{"p":"b","t":115.5,"v":1.88},{"p":"b","t":116,"v":1.8},{"p":"b","t":116.5,"v":1.72},{"p":"b","t":117,"v":1.65},{"p":"b","t":117.5,"v":1.62},{"p":"b","t":118,"v":1.6},{"p":"b","t":118.5,"v":1.55},{"p":"b","t":119,"v":1.7},{"p":"b","t":119.5,"v":2.05},{"p":"b","t":120,"v":2.2},
{"p":"c","t":0,"v":3.05},{"p":"c","t":0.5,"v":3.5},{"p":"c","t":1,"v":3.1},{"p":"c","t":1.5,"v":3.35},{"p":"c","t":2,"v":3.0},{"p":"c","t":2.5,"v":3.2},{"p":"c","t":3,"v":3.1},{"p":"c","t":3.5,"v":3.4},{"p":"c","t":4,"v":3.05},{"p":"c","t":4.5,"v":3.25},{"p":"c","t":5,"v":3.1},{"p":"c","t":5.5,"v":3.35},{"p":"c","t":6,"v":3.05},{"p":"c","t":6.5,"v":3.3},{"p":"c","t":7,"v":3.1},{"p":"c","t":7.5,"v":3.2},{"p":"c","t":8,"v":3.05},{"p":"c","t":8.5,"v":3.3},{"p":"c","t":9,"v":3.1},{"p":"c","t":9.5,"v":3.25},{"p":"c","t":10,"v":3.0},{"p":"c","t":10.5,"v":3.1},{"p":"c","t":11,"v":3.05},{"p":"c","t":11.2,"v":4.0},{"p":"c","t":11.5,"v":3.6},{"p":"c","t":12,"v":4.1},{"p":"c","t":12.5,"v":3.8},{"p":"c","t":13,"v":4.3},{"p":"c","t":13.5,"v":3.7},{"p":"c","t":14,"v":4.45},{"p":"c","t":14.5,"v":4.0},{"p":"c","t":15,"v":4.4},{"p":"c","t":15.5,"v":3.95},{"p":"c","t":16,"v":4.2},{"p":"c","t":16.5,"v":4.05},{"p":"c","t":17,"v":4.35},{"p":"c","t":17.5,"v":4.5},{"p":"c","t":18,"v":4.35},{"p":"c","t":18.5,"v":4.55},{"p":"c","t":19,"v":4.5},{"p":"c","t":19.5,"v":4.35},{"p":"c","t":20,"v":4.55},{"p":"c","t":20.5,"v":4.45},{"p":"c","t":21,"v":4.65},{"p":"c","t":21.5,"v":4.3},{"p":"c","t":22,"v":4.55},{"p":"c","t":22.5,"v":4.4},{"p":"c","t":23,"v":4.5},{"p":"c","t":23.5,"v":4.2},{"p":"c","t":24,"v":4.45},{"p":"c","t":24.5,"v":4.35},{"p":"c","t":25,"v":4.55},{"p":"c","t":25.5,"v":4.25},{"p":"c","t":26,"v":4.4},{"p":"c","t":26.5,"v":4.2},{"p":"c","t":27,"v":4.0},{"p":"c","t":27.4,"v":3.75},{"p":"c","t":27.8,"v":4.25},{"p":"c","t":28.2,"v":4.35},{"p":"c","t":28.6,"v":4.6},{"p":"c","t":29,"v":4.3},{"p":"c","t":29.5,"v":4.5},{"p":"c","t":30,"v":4.65},{"p":"c","t":30.5,"v":4.35},{"p":"c","t":31,"v":4.5},{"p":"c","t":31.5,"v":4.2},{"p":"c","t":32,"v":4.45},{"p":"c","t":32.5,"v":4.3},{"p":"c","t":33,"v":4.45},{"p":"c","t":33.5,"v":4.25},{"p":"c","t":34,"v":4.35},{"p":"c","t":34.5,"v":4.25},{"p":"c","t":35,"v":4.2},{"p":"c","t":35.5,"v":4.4},{"p":"c","t":36,"v":4.25},{"p":"c","t":36.5,"v":4.35},{"p":"c","t":37,"v":4.2},{"p":"c","t":37.5,"v":4.35},{"p":"c","t":38,"v":4.25},{"p":"c","t":38.5,"v":4.4},{"p":"c","t":39,"v":4.3},{"p":"c","t":39.5,"v":4.45},{"p":"c","t":40,"v":4.25},{"p":"c","t":40.5,"v":4.4},{"p":"c","t":41,"v":4.25},{"p":"c","t":41.5,"v":4.35},{"p":"c","t":42,"v":4.3},{"p":"c","t":43,"v":4.25},{"p":"c","t":44,"v":4.35},{"p":"c","t":44.5,"v":4.15},{"p":"c","t":45,"v":4.25},{"p":"c","t":46,"v":4.22},{"p":"c","t":47,"v":4.2},{"p":"c","t":48,"v":4.25},{"p":"c","t":49,"v":4.22},{"p":"c","t":50,"v":4.26},{"p":"c","t":51,"v":4.22},{"p":"c","t":52,"v":4.25},{"p":"c","t":53,"v":4.28},{"p":"c","t":54,"v":4.22},{"p":"c","t":55,"v":4.25},{"p":"c","t":56,"v":4.22},{"p":"c","t":57,"v":4.2},{"p":"c","t":58,"v":4.25},{"p":"c","t":58.5,"v":4.15},{"p":"c","t":59,"v":4.3},{"p":"c","t":59.4,"v":4.15},{"p":"c","t":59.8,"v":4.7},{"p":"c","t":60.5,"v":4.78},{"p":"c","t":62,"v":4.78},{"p":"c","t":64,"v":4.8},{"p":"c","t":66,"v":4.8},{"p":"c","t":68,"v":4.83},{"p":"c","t":69,"v":4.85},{"p":"c","t":69.5,"v":4.6},{"p":"c","t":70.5,"v":4.45},{"p":"c","t":71.5,"v":4.3},{"p":"c","t":72.5,"v":4.2},{"p":"c","t":73.8,"v":4.08},{"p":"c","t":74.5,"v":3.95},{"p":"c","t":75,"v":3.83},{"p":"c","t":75.5,"v":4.0},{"p":"c","t":76.1,"v":3.7},{"p":"c","t":77.3,"v":3.48},{"p":"c","t":78,"v":3.35},{"p":"c","t":78.5,"v":3.3},{"p":"c","t":79,"v":3.4},{"p":"c","t":79.6,"v":3.42},{"p":"c","t":80,"v":3.32},{"p":"c","t":80.5,"v":3.4},{"p":"c","t":81.3,"v":3.35},{"p":"c","t":82,"v":3.4},{"p":"c","t":83,"v":3.4},{"p":"c","t":84.3,"v":3.46},{"p":"c","t":85,"v":3.5},{"p":"c","t":86.5,"v":3.5},{"p":"c","t":88,"v":3.52},{"p":"c","t":90,"v":3.49},{"p":"c","t":91.4,"v":3.45},{"p":"c","t":92,"v":3.38},{"p":"c","t":95,"v":3.38},{"p":"c","t":100,"v":3.38},{"p":"c","t":105,"v":3.38},{"p":"c","t":109,"v":3.38},{"p":"c","t":109.7,"v":3.7},{"p":"c","t":110.5,"v":3.6},{"p":"c","t":111.2,"v":3.65},{"p":"c","t":111.6,"v":3.05},{"p":"c","t":112,"v":2.85},{"p":"c","t":113,"v":2.82},{"p":"c","t":114,"v":2.8},{"p":"c","t":115,"v":2.9},{"p":"c","t":115.6,"v":3.1},{"p":"c","t":116.5,"v":3.0},{"p":"c","t":117,"v":2.95},{"p":"c","t":118,"v":2.8},{"p":"c","t":118.5,"v":3.2},{"p":"c","t":119,"v":2.8},{"p":"c","t":119.5,"v":2.7},{"p":"c","t":120,"v":2.75}
]
},
"bounds": "flush",
"spacing": 56.5,
"vconcat": [
{
 "title": {"text": "(a) Iberian"},
 "width": 340, "height": 84.5,
 "layer": [
  {"data": {"name": "sim"}, "transform": [{"filter": "datum.p == 'a'"}],
   "mark": {"type": "line", "strokeWidth": 1.3, "clip": true},
   "encoding": {
    "x": {"field": "t", "type": "quantitative", "scale": {"domain": [0, 120], "nice": false, "zero": false}, "axis": {"orient": "bottom", "values": [0,10,20,30,40,50,60,70,80,90,100,110,120], "format": "d", "tickSize": 4, "labelFlush": false, "title": null}},
    "y": {"field": "v", "type": "quantitative", "scale": {"domain": [0, 3], "nice": false, "zero": false}, "axis": {"orient": "left", "values": [0,0.5,1,1.5,2,2.5,3], "format": ".1f", "tickSize": 4, "title": "δ¹⁸O (simulated)", "titlePadding": 7}},
    "color": {"field": "s", "type": "nominal", "scale": {"domain": ["red","cyan","green","blue"], "range": ["#e8262a","#2ad8e6","#25de25","#2b2bd8"]}, "legend": null}
   }},
  {"data": {"name": "obs"}, "transform": [{"filter": "datum.p == 'a'"}],
   "mark": {"type": "line", "color": "#000000", "strokeWidth": 1.1, "clip": true},
   "encoding": {
    "x": {"field": "t", "type": "quantitative", "scale": {"domain": [0, 120], "nice": false, "zero": false}, "axis": {"orient": "top", "values": [0,10,20,30,40,50,60,70,80,90,100,110,120], "labels": false, "tickSize": 4, "title": null}},
    "y": {"field": "v", "type": "quantitative", "scale": {"domain": [3, 6], "nice": false, "zero": false}, "axis": {"orient": "right", "values": [3,3.5,4,4.5,5,5.5,6], "format": ".1f", "tickSize": 4, "title": "δ¹⁸O (observed)", "titleAngle": 270, "titleBaseline": "top", "titlePadding": 12}}
   }},
  {"data": {"name": "sim"}, "transform": [{"filter": "datum.p == 'a'"}],
   "mark": {"type": "line", "strokeOpacity": 0},
   "encoding": {
    "x": {"field": "t", "type": "quantitative", "scale": {"domain": [0, 120], "nice": false, "zero": false}, "axis": {"orient": "bottom", "values": [2,4,6,8,12,14,16,18,22,24,26,28,32,34,36,38,42,44,46,48,52,54,56,58,62,64,66,68,72,74,76,78,82,84,86,88,92,94,96,98,102,104,106,108,112,114,116,118], "labels": false, "tickSize": 2, "title": null}},
    "y": {"field": "v", "type": "quantitative", "scale": {"domain": [0, 3], "nice": false, "zero": false}, "axis": {"orient": "left", "values": [0.1,0.2,0.3,0.4,0.6,0.7,0.8,0.9,1.1,1.2,1.3,1.4,1.6,1.7,1.8,1.9,2.1,2.2,2.3,2.4,2.6,2.7,2.8,2.9], "labels": false, "tickSize": 2, "title": null}},
    "detail": {"field": "s"}
   }},
  {"data": {"name": "sim"}, "transform": [{"filter": "datum.p == 'a'"}],
   "mark": {"type": "line", "strokeOpacity": 0, "clip": true},
   "encoding": {
    "x": {"field": "t", "type": "quantitative", "scale": {"domain": [0, 120], "nice": false, "zero": false}, "axis": {"orient": "top", "values": [2,4,6,8,12,14,16,18,22,24,26,28,32,34,36,38,42,44,46,48,52,54,56,58,62,64,66,68,72,74,76,78,82,84,86,88,92,94,96,98,102,104,106,108,112,114,116,118], "labels": false, "tickSize": 2, "title": null}},
    "y": {"field": "v", "type": "quantitative", "scale": {"domain": [3, 6], "nice": false, "zero": false}, "axis": {"orient": "right", "values": [3.1,3.2,3.3,3.4,3.6,3.7,3.8,3.9,4.1,4.2,4.3,4.4,4.6,4.7,4.8,4.9,5.1,5.2,5.3,5.4,5.6,5.7,5.8,5.9], "labels": false, "tickSize": 2, "title": null}},
    "detail": {"field": "s"}
   }}
 ],
 "resolve": {"scale": {"y": "independent"}, "axis": {"x": "independent", "y": "independent"}}
},
{
 "title": {"text": "(b) Chatham"},
 "width": 340, "height": 84.5,
 "layer": [
  {"data": {"name": "sim"}, "transform": [{"filter": "datum.p == 'b'"}],
   "mark": {"type": "line", "strokeWidth": 1.3, "clip": true},
   "encoding": {
    "x": {"field": "t", "type": "quantitative", "scale": {"domain": [0, 120], "nice": false, "zero": false}, "axis": {"orient": "bottom", "values": [0,10,20,30,40,50,60,70,80,90,100,110,120], "format": "d", "tickSize": 4, "labelFlush": false, "title": null}},
    "y": {"field": "v", "type": "quantitative", "scale": {"domain": [0, 3], "nice": false, "zero": false}, "axis": {"orient": "left", "values": [0,0.5,1,1.5,2,2.5,3], "format": ".1f", "tickSize": 4, "title": "δ¹⁸O (simulated)", "titlePadding": 7}},
    "color": {"field": "s", "type": "nominal", "scale": {"domain": ["red","cyan","green","blue"], "range": ["#e8262a","#2ad8e6","#25de25","#2b2bd8"]}, "legend": null}
   }},
  {"data": {"name": "obs"}, "transform": [{"filter": "datum.p == 'b'"}],
   "mark": {"type": "line", "color": "#000000", "strokeWidth": 1.1, "clip": true},
   "encoding": {
    "x": {"field": "t", "type": "quantitative", "scale": {"domain": [0, 120], "nice": false, "zero": false}, "axis": {"orient": "top", "values": [0,10,20,30,40,50,60,70,80,90,100,110,120], "labels": false, "tickSize": 4, "title": null}},
    "y": {"field": "v", "type": "quantitative", "scale": {"domain": [1.5, 4.5], "nice": false, "zero": false}, "axis": {"orient": "right", "values": [1.5,2,2.5,3,3.5,4,4.5], "format": ".1f", "tickSize": 4, "title": "δ¹⁸O (observed)", "titleAngle": 270, "titleBaseline": "top", "titlePadding": 12}}
   }},
  {"data": {"name": "sim"}, "transform": [{"filter": "datum.p == 'b'"}],
   "mark": {"type": "line", "strokeOpacity": 0},
   "encoding": {
    "x": {"field": "t", "type": "quantitative", "scale": {"domain": [0, 120], "nice": false, "zero": false}, "axis": {"orient": "bottom", "values": [2,4,6,8,12,14,16,18,22,24,26,28,32,34,36,38,42,44,46,48,52,54,56,58,62,64,66,68,72,74,76,78,82,84,86,88,92,94,96,98,102,104,106,108,112,114,116,118], "labels": false, "tickSize": 2, "title": null}},
    "y": {"field": "v", "type": "quantitative", "scale": {"domain": [0, 3], "nice": false, "zero": false}, "axis": {"orient": "left", "values": [0.1,0.2,0.3,0.4,0.6,0.7,0.8,0.9,1.1,1.2,1.3,1.4,1.6,1.7,1.8,1.9,2.1,2.2,2.3,2.4,2.6,2.7,2.8,2.9], "labels": false, "tickSize": 2, "title": null}},
    "detail": {"field": "s"}
   }},
  {"data": {"name": "sim"}, "transform": [{"filter": "datum.p == 'b'"}],
   "mark": {"type": "line", "strokeOpacity": 0, "clip": true},
   "encoding": {
    "x": {"field": "t", "type": "quantitative", "scale": {"domain": [0, 120], "nice": false, "zero": false}, "axis": {"orient": "top", "values": [2,4,6,8,12,14,16,18,22,24,26,28,32,34,36,38,42,44,46,48,52,54,56,58,62,64,66,68,72,74,76,78,82,84,86,88,92,94,96,98,102,104,106,108,112,114,116,118], "labels": false, "tickSize": 2, "title": null}},
    "y": {"field": "v", "type": "quantitative", "scale": {"domain": [1.5, 4.5], "nice": false, "zero": false}, "axis": {"orient": "right", "values": [1.6,1.7,1.8,1.9,2.1,2.2,2.3,2.4,2.6,2.7,2.8,2.9,3.1,3.2,3.3,3.4,3.6,3.7,3.8,3.9,4.1,4.2,4.3,4.4], "labels": false, "tickSize": 2, "title": null}},
    "detail": {"field": "s"}
   }}
 ],
 "resolve": {"scale": {"y": "independent"}, "axis": {"x": "independent", "y": "independent"}}
},
{
 "title": {"text": "(c) Bouvet"},
 "width": 340, "height": 84.5,
 "layer": [
  {"data": {"name": "sim"}, "transform": [{"filter": "datum.p == 'c'"}],
   "mark": {"type": "line", "strokeWidth": 1.3, "clip": true},
   "encoding": {
    "x": {"field": "t", "type": "quantitative", "scale": {"domain": [0, 120], "nice": false, "zero": false}, "axis": {"orient": "bottom", "values": [0,10,20,30,40,50,60,70,80,90,100,110,120], "format": "d", "tickSize": 4, "labelFlush": false, "title": "Thousands of Years (Before Present)", "titlePadding": 7}},
    "y": {"field": "v", "type": "quantitative", "scale": {"domain": [0, 3], "nice": false, "zero": false}, "axis": {"orient": "left", "values": [0,0.5,1,1.5,2,2.5,3], "format": ".1f", "tickSize": 4, "title": "δ¹⁸O (simulated)", "titlePadding": 7}},
    "color": {"field": "s", "type": "nominal", "scale": {"domain": ["red","cyan","green","blue"], "range": ["#e8262a","#2ad8e6","#25de25","#2b2bd8"]}, "legend": null}
   }},
  {"data": {"name": "obs"}, "transform": [{"filter": "datum.p == 'c'"}],
   "mark": {"type": "line", "color": "#000000", "strokeWidth": 1.1, "clip": true},
   "encoding": {
    "x": {"field": "t", "type": "quantitative", "scale": {"domain": [0, 120], "nice": false, "zero": false}, "axis": {"orient": "top", "values": [0,10,20,30,40,50,60,70,80,90,100,110,120], "labels": false, "tickSize": 4, "title": null}},
    "y": {"field": "v", "type": "quantitative", "scale": {"domain": [2.5, 5.5], "nice": false, "zero": false}, "axis": {"orient": "right", "values": [2.5,3,3.5,4,4.5,5,5.5], "format": ".1f", "tickSize": 4, "title": "δ¹⁸O (observed)", "titleAngle": 270, "titleBaseline": "top", "titlePadding": 12}}
   }},
  {"data": {"name": "sim"}, "transform": [{"filter": "datum.p == 'c'"}],
   "mark": {"type": "line", "strokeOpacity": 0},
   "encoding": {
    "x": {"field": "t", "type": "quantitative", "scale": {"domain": [0, 120], "nice": false, "zero": false}, "axis": {"orient": "bottom", "values": [2,4,6,8,12,14,16,18,22,24,26,28,32,34,36,38,42,44,46,48,52,54,56,58,62,64,66,68,72,74,76,78,82,84,86,88,92,94,96,98,102,104,106,108,112,114,116,118], "labels": false, "tickSize": 2, "title": null}},
    "y": {"field": "v", "type": "quantitative", "scale": {"domain": [0, 3], "nice": false, "zero": false}, "axis": {"orient": "left", "values": [0.1,0.2,0.3,0.4,0.6,0.7,0.8,0.9,1.1,1.2,1.3,1.4,1.6,1.7,1.8,1.9,2.1,2.2,2.3,2.4,2.6,2.7,2.8,2.9], "labels": false, "tickSize": 2, "title": null}},
    "detail": {"field": "s"}
   }},
  {"data": {"name": "sim"}, "transform": [{"filter": "datum.p == 'c'"}],
   "mark": {"type": "line", "strokeOpacity": 0, "clip": true},
   "encoding": {
    "x": {"field": "t", "type": "quantitative", "scale": {"domain": [0, 120], "nice": false, "zero": false}, "axis": {"orient": "top", "values": [2,4,6,8,12,14,16,18,22,24,26,28,32,34,36,38,42,44,46,48,52,54,56,58,62,64,66,68,72,74,76,78,82,84,86,88,92,94,96,98,102,104,106,108,112,114,116,118], "labels": false, "tickSize": 2, "title": null}},
    "y": {"field": "v", "type": "quantitative", "scale": {"domain": [2.5, 5.5], "nice": false, "zero": false}, "axis": {"orient": "right", "values": [2.6,2.7,2.8,2.9,3.1,3.2,3.3,3.4,3.6,3.7,3.8,3.9,4.1,4.2,4.3,4.4,4.6,4.7,4.8,4.9,5.1,5.2,5.3,5.4], "labels": false, "tickSize": 2, "title": null}},
    "detail": {"field": "s"}
   }}
 ],
 "resolve": {"scale": {"y": "independent"}, "axis": {"x": "independent", "y": "independent"}}
},
{
 "title": {"text": "(d) Detroit"},
 "width": 340, "height": 84.5,
 "layer": [
  {"data": {"name": "sim"}, "transform": [{"filter": "datum.p == 'd'"}],
   "mark": {"type": "line", "strokeWidth": 1.3, "clip": true},
   "encoding": {
    "x": {"field": "t", "type": "quantitative", "scale": {"domain": [0, 120], "nice": false, "zero": false}, "axis": {"orient": "bottom", "values": [0,10,20,30,40,50,60,70,80,90,100,110,120], "format": "d", "tickSize": 4, "labelFlush": false, "title": "Thousands of Years (Before Present)", "titlePadding": 7}},
    "y": {"field": "v", "type": "quantitative", "scale": {"domain": [0, 3], "nice": false, "zero": false}, "axis": {"orient": "left", "values": [0,0.5,1,1.5,2,2.5,3], "format": ".1f", "tickSize": 4, "title": "δ¹⁸O (simulated)", "titlePadding": 7}},
    "color": {"field": "s", "type": "nominal", "scale": {"domain": ["red","cyan","green","blue"], "range": ["#e8262a","#2ad8e6","#25de25","#2b2bd8"]}, "legend": null}
   }},
  {"data": {"name": "obs"}, "transform": [{"filter": "datum.p == 'd'"}],
   "mark": {"type": "line", "color": "#000000", "strokeWidth": 1.1, "clip": true},
   "encoding": {
    "x": {"field": "t", "type": "quantitative", "scale": {"domain": [0, 120], "nice": false, "zero": false}, "axis": {"orient": "top", "values": [0,10,20,30,40,50,60,70,80,90,100,110,120], "labels": false, "tickSize": 4, "title": null}},
    "y": {"field": "v", "type": "quantitative", "scale": {"domain": [2.5, 5.5], "nice": false, "zero": false}, "axis": {"orient": "right", "values": [2.5,3,3.5,4,4.5,5,5.5], "format": ".1f", "tickSize": 4, "title": "δ¹⁸O (observed)", "titleAngle": 270, "titleBaseline": "top", "titlePadding": 12}}
   }},
  {"data": {"name": "sim"}, "transform": [{"filter": "datum.p == 'd'"}],
   "mark": {"type": "line", "strokeOpacity": 0},
   "encoding": {
    "x": {"field": "t", "type": "quantitative", "scale": {"domain": [0, 120], "nice": false, "zero": false}, "axis": {"orient": "bottom", "values": [2,4,6,8,12,14,16,18,22,24,26,28,32,34,36,38,42,44,46,48,52,54,56,58,62,64,66,68,72,74,76,78,82,84,86,88,92,94,96,98,102,104,106,108,112,114,116,118], "labels": false, "tickSize": 2, "title": null}},
    "y": {"field": "v", "type": "quantitative", "scale": {"domain": [0, 3], "nice": false, "zero": false}, "axis": {"orient": "left", "values": [0.1,0.2,0.3,0.4,0.6,0.7,0.8,0.9,1.1,1.2,1.3,1.4,1.6,1.7,1.8,1.9,2.1,2.2,2.3,2.4,2.6,2.7,2.8,2.9], "labels": false, "tickSize": 2, "title": null}},
    "detail": {"field": "s"}
   }},
  {"data": {"name": "sim"}, "transform": [{"filter": "datum.p == 'd'"}],
   "mark": {"type": "line", "strokeOpacity": 0, "clip": true},
   "encoding": {
    "x": {"field": "t", "type": "quantitative", "scale": {"domain": [0, 120], "nice": false, "zero": false}, "axis": {"orient": "top", "values": [2,4,6,8,12,14,16,18,22,24,26,28,32,34,36,38,42,44,46,48,52,54,56,58,62,64,66,68,72,74,76,78,82,84,86,88,92,94,96,98,102,104,106,108,112,114,116,118], "labels": false, "tickSize": 2, "title": null}},
    "y": {"field": "v", "type": "quantitative", "scale": {"domain": [2.5, 5.5], "nice": false, "zero": false}, "axis": {"orient": "right", "values": [2.6,2.7,2.8,2.9,3.1,3.2,3.3,3.4,3.6,3.7,3.8,3.9,4.1,4.2,4.3,4.4,4.6,4.7,4.8,4.9,5.1,5.2,5.3,5.4], "labels": false, "tickSize": 2, "title": null}},
    "detail": {"field": "s"}
   }}
 ],
 "resolve": {"scale": {"y": "independent"}, "axis": {"x": "independent", "y": "independent"}}
}
]
}
